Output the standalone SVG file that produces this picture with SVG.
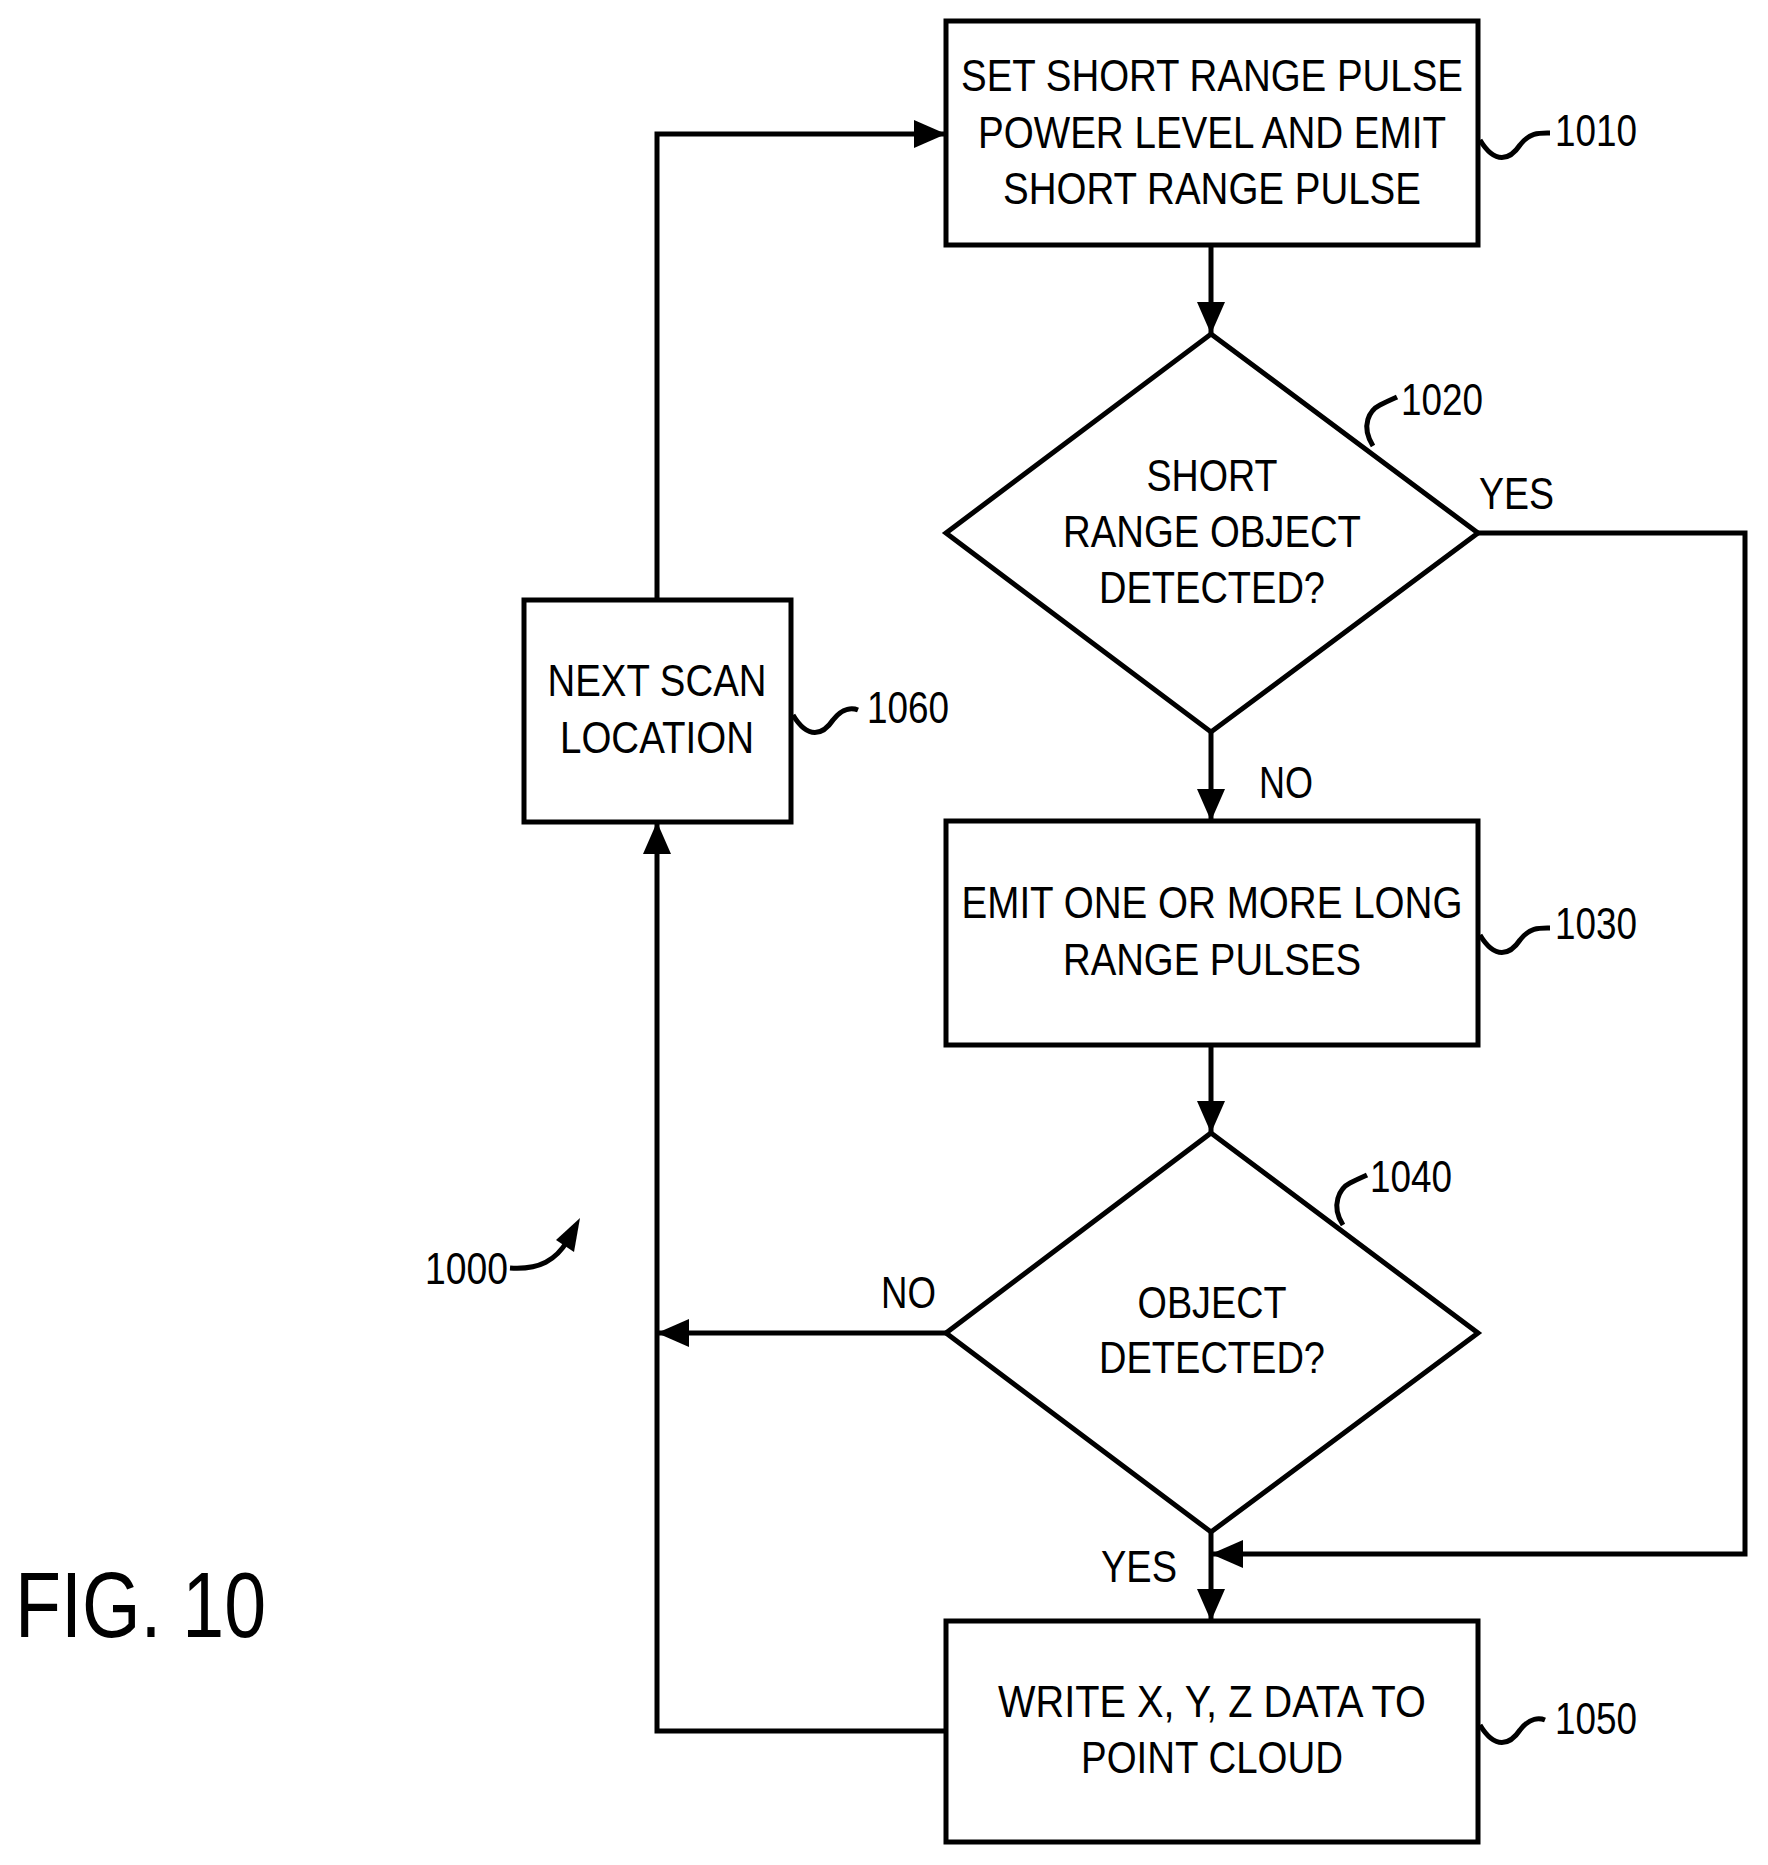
<svg xmlns="http://www.w3.org/2000/svg" width="1768" height="1865" viewBox="0 0 1768 1865">
<style>
.s{fill:none;stroke:#000;stroke-width:5}
.b{fill:#fff;stroke:#000;stroke-width:5}
text{font-family:"Liberation Sans",Arial,sans-serif;font-size:45px;fill:#000}
.c{text-anchor:middle}
</style>
<defs>
<marker id="a" markerUnits="userSpaceOnUse" markerWidth="32" markerHeight="28" refX="32" refY="14" orient="auto"><path d="M0,0 L32,14 L0,28 Z" fill="#000"/></marker>
</defs>
<rect width="1768" height="1865" fill="#fff"/>
<g id="connectors">
<path class="s" d="M1211,245 V334" marker-end="url(#a)"/>
<path class="s" d="M1211,732 V821" marker-end="url(#a)"/>
<path class="s" d="M1211,1045 V1133" marker-end="url(#a)"/>
<path class="s" d="M1211,1532 V1621" marker-end="url(#a)"/>
<path class="s" d="M1478,533 H1745 V1554 H1211" marker-end="url(#a)"/>
<path class="s" d="M946,1333 H657" marker-end="url(#a)"/>
<path class="s" d="M946,1731 H657 V822" marker-end="url(#a)"/>
<path class="s" d="M657,600 V134 H946" marker-end="url(#a)"/>
<text x="1479" y="509" textLength="75" lengthAdjust="spacingAndGlyphs">YES</text>
<text x="1259" y="798" textLength="54" lengthAdjust="spacingAndGlyphs">NO</text>
<text x="881" y="1308" textLength="55" lengthAdjust="spacingAndGlyphs">NO</text>
<text x="1101" y="1582" textLength="76" lengthAdjust="spacingAndGlyphs">YES</text>
</g>
<g id="n1010">
<rect class="b" x="946" y="21" width="532" height="224"/>
<text class="c" x="1212" y="91" textLength="502" lengthAdjust="spacingAndGlyphs">SET SHORT RANGE PULSE</text>
<text class="c" x="1212" y="148" textLength="468" lengthAdjust="spacingAndGlyphs">POWER LEVEL AND EMIT</text>
<text class="c" x="1212" y="204" textLength="418" lengthAdjust="spacingAndGlyphs">SHORT RANGE PULSE</text>
<path class="s" d="M1480,140 C1495,165 1510,160 1520,145 C1530,132 1540,133 1550,133" stroke-width="3"/>
<text x="1555" y="146" textLength="82" lengthAdjust="spacingAndGlyphs">1010</text>
</g>
<g id="n1020">
<polygon class="b" points="1211,334 1478,533 1211,732 946,533"/>
<text class="c" x="1212" y="491" textLength="131" lengthAdjust="spacingAndGlyphs">SHORT</text>
<text class="c" x="1212" y="547" textLength="298" lengthAdjust="spacingAndGlyphs">RANGE OBJECT</text>
<text class="c" x="1212" y="603" textLength="226" lengthAdjust="spacingAndGlyphs">DETECTED?</text>
<path class="s" d="M1373,446 C1360,425 1370,410 1380,405 C1390,400 1395,398 1397,397" stroke-width="3"/>
<text x="1401" y="415" textLength="82" lengthAdjust="spacingAndGlyphs">1020</text>
</g>
<g id="n1030">
<rect class="b" x="946" y="821" width="532" height="224"/>
<text class="c" x="1212" y="918" textLength="501" lengthAdjust="spacingAndGlyphs">EMIT ONE OR MORE LONG</text>
<text class="c" x="1212" y="975" textLength="298" lengthAdjust="spacingAndGlyphs">RANGE PULSES</text>
<path class="s" d="M1480,935 C1495,960 1510,955 1520,940 C1530,927 1540,928 1550,928" stroke-width="3"/>
<text x="1555" y="939" textLength="82" lengthAdjust="spacingAndGlyphs">1030</text>
</g>
<g id="n1040">
<polygon class="b" points="1211,1133 1478,1333 1211,1532 946,1333"/>
<text class="c" x="1212" y="1318" textLength="149" lengthAdjust="spacingAndGlyphs">OBJECT</text>
<text class="c" x="1212" y="1373" textLength="226" lengthAdjust="spacingAndGlyphs">DETECTED?</text>
<path class="s" d="M1343,1225 C1330,1205 1340,1188 1350,1183 C1360,1178 1365,1176 1367,1175" stroke-width="3"/>
<text x="1370" y="1192" textLength="82" lengthAdjust="spacingAndGlyphs">1040</text>
</g>
<g id="n1050">
<rect class="b" x="946" y="1621" width="532" height="221"/>
<text class="c" x="1212" y="1717" textLength="428" lengthAdjust="spacingAndGlyphs">WRITE X, Y, Z DATA TO</text>
<text class="c" x="1212" y="1773" textLength="262" lengthAdjust="spacingAndGlyphs">POINT CLOUD</text>
<path class="s" d="M1480,1725 C1495,1750 1510,1745 1520,1730 C1530,1717 1540,1718 1545,1720" stroke-width="3"/>
<text x="1555" y="1734" textLength="82" lengthAdjust="spacingAndGlyphs">1050</text>
</g>
<g id="n1060">
<rect class="b" x="524" y="600" width="267" height="222"/>
<text class="c" x="657" y="696" textLength="219" lengthAdjust="spacingAndGlyphs">NEXT SCAN</text>
<text class="c" x="657" y="753" textLength="194" lengthAdjust="spacingAndGlyphs">LOCATION</text>
<path class="s" d="M793,715 C808,740 823,735 833,720 C843,707 853,708 858,710" stroke-width="3"/>
<text x="867" y="723" textLength="82" lengthAdjust="spacingAndGlyphs">1060</text>
</g>
<g id="n1000">
<text x="425" y="1284" textLength="83" lengthAdjust="spacingAndGlyphs">1000</text>
<path class="s" d="M510,1268 C540,1270 556,1260 568,1240" stroke-width="3"/>
<path d="M580,1218 L556,1240 L574,1252 Z" fill="#000"/>
</g>
<text x="15" y="1637" style="font-size:92px" textLength="251" lengthAdjust="spacingAndGlyphs">FIG. 10</text>
</svg>
